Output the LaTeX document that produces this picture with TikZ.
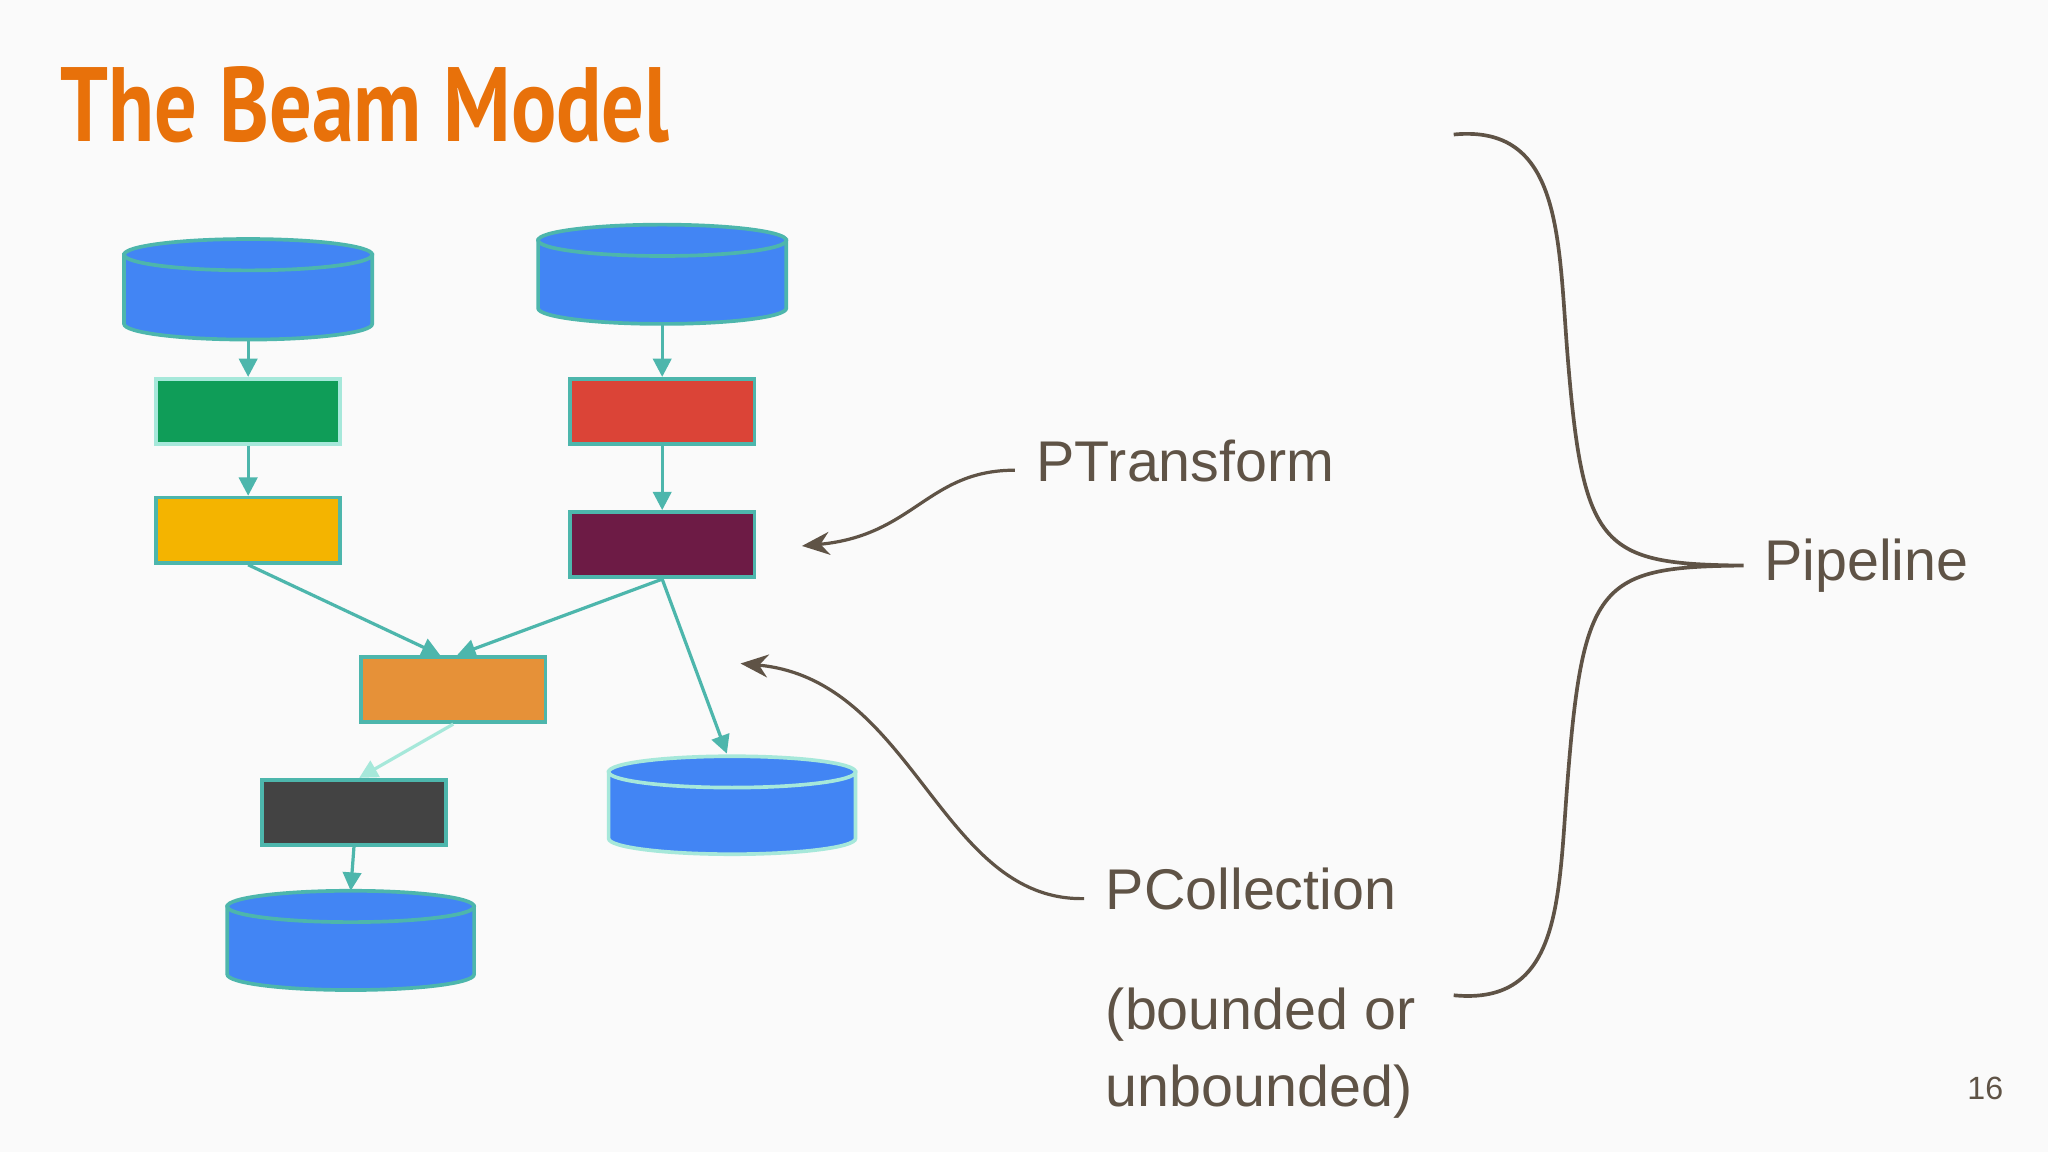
\documentclass[tikz,border=0pt]{standalone}
\usepackage{fontspec}
\setmainfont{Liberation Sans}
\newfontfamily\titlefont{PT Sans}
\usetikzlibrary{arrows.meta}
\definecolor{teal1}{HTML}{4DB6AC}
\definecolor{cylb}{HTML}{4285F4}
\definecolor{txt}{HTML}{5F5346}
\definecolor{org}{HTML}{E8710A}
\definecolor{cgreen}{HTML}{0F9D58}
\definecolor{cyellow}{HTML}{F4B400}
\definecolor{cred}{HTML}{DB4437}
\definecolor{cpurple}{HTML}{6D1B45}
\definecolor{corange}{HTML}{E69138}
\definecolor{cgray}{HTML}{434343}
\definecolor{lteal}{HTML}{A6E8DA}
\begin{document}
\begin{tikzpicture}[x=0.01cm,y=-0.01cm,
  box/.style={draw=teal1,line width=0.8pt,minimum width=1.41cm,minimum height=0.5cm,inner sep=0pt},
  flow/.style={draw=teal1,line width=0.7pt,-{Triangle[length=4pt,width=4pt]}},
  callout/.style={draw=txt,line width=0.7pt,-{Stealth[length=6pt,width=5pt]}},
  lbl/.style={text=txt,font=\fontsize{12.5}{15}\selectfont,inner sep=0pt,anchor=west}]
\useasboundingbox (0,0) rectangle (1568,882);
\fill[white!98!black] (0,0) rectangle (1568,882);
\node[anchor=base west,text=org,inner sep=0pt,xscale=0.8] (title) at (46,108) {\titlefont\bfseries\fontsize{23}{26}\selectfont The Beam Model};
% cylinders
\foreach \n/\xa/\xb/\yt/\yb/\bc in {c1/95/285/195/248/teal1, c2/412/602/184/236/teal1, c3/466/655/591/642/lteal, c4/174/363/694/746/teal1}{
  \filldraw[fill=cylb,draw=\bc,line width=0.8pt] (\xa,\yt) -- (\xa,\yb) arc[start angle=180,end angle=0,x radius={(\xb-\xa)/2},y radius=12] -- (\xb,\yt) -- cycle;
  \filldraw[fill=cylb,draw=\bc,line width=0.8pt] ({(\xa+\xb)/2},\yt) ellipse[x radius={(\xb-\xa)/2},y radius=12];
  \coordinate (\n t) at ({(\xa+\xb)/2},{\yt-12});
  \coordinate (\n b) at ({(\xa+\xb)/2},{\yb+12});
}
\node[box,fill=cgreen,draw=lteal] (green) at (190,315) {};
\node[box,fill=cyellow] (yellow) at (190,406) {};
\node[box,fill=cred] (red) at (507,315) {};
\node[box,fill=cpurple] (purple) at (507,417) {};
\node[box,fill=corange] (orange) at (347,528) {};
\node[box,fill=cgray] (gray) at (271,622) {};
\draw[flow] (c1b) -- (green.north);
\draw[flow] (green.south) -- (yellow.north);
\draw[flow] (c2b) -- (red.north);
\draw[flow] (red.south) -- (purple.north);
\draw[flow] (yellow.south) -- ([xshift=-0.1cm]orange.north);
\draw[flow] (purple.south) -- ([xshift=0.03cm]orange.north);
\draw[flow] (purple.south) -- ([xshift=-0.04cm,yshift=0.02cm]c3t);
\draw[flow,draw=lteal] (orange.south) -- ([xshift=0.04cm]gray.north);
\draw[flow] (gray.south) -- (c4t);
% labels
\node[lbl] (pt) at (793,353) {PTransform};
\node[lbl] (pc) at (846,681) {PCollection};
\node[lbl] (bo) at (846,777) {(bounded or};
\node[lbl] (ub) at (846,836) {unbounded)};
\node[lbl] (pl) at (1350,433) {Pipeline};
\node[text=txt,font=\fontsize{7}{8}\selectfont,inner sep=0pt] (num) at (1520,833) {16};
\coordinate (ptend) at (777,360);
\coordinate (pctip) at (614,418);
\coordinate (pcend) at (830,688);
\coordinate (pctip2) at (567,508);
\draw[callout] (ptend) .. controls (710,360) and (700,410) .. (pctip);
\draw[callout] (pcend) .. controls (720,690) and (700,520) .. (pctip2);
\coordinate (bt) at (1113,103);
\coordinate (bm) at (1335,433);
\coordinate (bb) at (1113,762);
\draw[txt,line width=0.8pt] (bt) .. controls (1195,95) and (1193,180) .. (1200,270) .. controls (1212,420) and (1225,432) .. (bm)
  .. controls (1225,434) and (1212,445) .. (1200,600) .. controls (1193,690) and (1195,770) .. (bb);
\end{tikzpicture}
\end{document}
